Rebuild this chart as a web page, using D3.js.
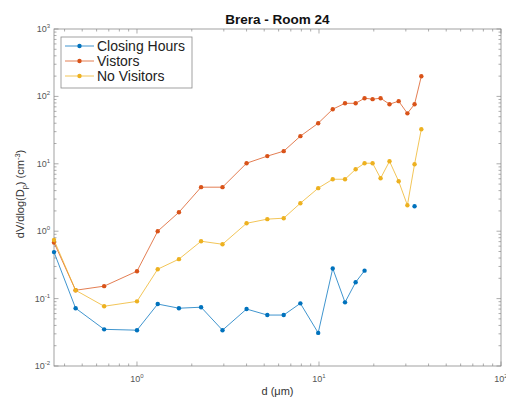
<!DOCTYPE html>
<html><head><meta charset="utf-8">
<script src="https://cdn.jsdelivr.net/npm/d3@7"></script>
<style>body{margin:0;background:#fff}</style>
</head><body>
<svg id="c" width="506" height="399"></svg>
<script>
const diameters = [0.35,0.46,0.66,1.0,1.3,1.7,2.25,2.95,4.0,5.2,6.4,7.9,9.9,11.9,13.9,15.9,17.8,19.7,21.8,24.4,27.4,30.6,33.5,36.5];
const closingHours = [0.49,0.072,0.035,0.034,0.083,0.072,0.0745,0.034,0.07,0.057,0.057,0.085,0.031,0.28,0.088,0.175,0.26,null,null,null,null,null,2.35,null];
const visitors = [0.68,0.133,0.153,0.255,1.0,1.91,4.5,4.5,10.2,13.0,15.4,25.7,40,64.6,79,79,94,91,94,76.6,85,56,76.6,199];
const noVisitors = [0.74,0.133,0.077,0.091,0.273,0.385,0.71,0.64,1.31,1.51,1.56,2.6,4.35,5.9,5.9,8.3,10.2,10.2,6.1,10.9,5.5,2.43,9.86,32.6];
const seriesNames = ["Closing Hours","Vistors","No Visitors"];
const seriesColors = ["#0072BD","#D95319","#EDB120"];
const xTickExps = [0,1,2];
const yTickExps = [-2,-1,0,1,2,3];
const title = "Brera - Room 24";

const svg = d3.select("#c");
const L=54,R=501,T=29,B=366;
const x = d3.scaleLog().domain([0.35,100]).range([L,R]);
const y = d3.scaleLog().domain([1e-2,1e3]).range([B,T]);
const font = "'Liberation Sans', Arial, sans-serif";
const axisCol = "#8a8a8a";

// box
svg.append("rect").attr("x",L).attr("y",T).attr("width",R-L).attr("height",B-T)
  .attr("fill","none").attr("stroke",axisCol).attr("stroke-width",0.8);

// ticks
const g = svg.append("g").attr("stroke",axisCol).attr("stroke-width",0.7);
const xMinor=[], yMinor=[];
for (let e=-1;e<=2;e++) for (let m=1;m<10;m++){const v=m*Math.pow(10,e); if(v>=0.35&&v<=100) xMinor.push({v,major:m===1});}
for (let e=-2;e<=3;e++) for (let m=1;m<10;m++){const v=m*Math.pow(10,e); if(v>=1e-2&&v<=1e3) yMinor.push({v,major:m===1});}
xMinor.forEach(t=>{const l=t.major?4.5:2.5;const px=x(t.v);
  g.append("line").attr("x1",px).attr("x2",px).attr("y1",B).attr("y2",B-l);
  g.append("line").attr("x1",px).attr("x2",px).attr("y1",T).attr("y2",T+l);});
yMinor.forEach(t=>{const l=t.major?4.5:2.5;const py=y(t.v);
  g.append("line").attr("x1",L).attr("x2",L+l).attr("y1",py).attr("y2",py);
  g.append("line").attr("x1",R).attr("x2",R-l).attr("y1",py).attr("y2",py);});

// tick labels
xTickExps.forEach(e=>{
  const t=svg.append("text").attr("x",x(Math.pow(10,e))).attr("y",382).attr("text-anchor","middle")
    .attr("font-family",font).attr("font-size",9).attr("fill","#555");
  t.append("tspan").text("10");
  t.append("tspan").attr("dy",-4).attr("font-size",6).text(e);
});
yTickExps.forEach(e=>{
  const t=svg.append("text").attr("x",50).attr("y",y(Math.pow(10,e))+3).attr("text-anchor","end")
    .attr("font-family",font).attr("font-size",9).attr("fill","#555");
  t.append("tspan").text("10");
  t.append("tspan").attr("dy",-4).attr("font-size",6).text(e);
});

// title
svg.append("text").attr("x",(L+R)/2).attr("y",24).attr("text-anchor","middle")
  .attr("font-family",font).attr("font-weight","bold").attr("font-size",13.5).attr("fill","#111").text(title);

// axis labels
const xl=svg.append("text").attr("x",(L+R)/2).attr("y",395).attr("text-anchor","middle")
  .attr("font-family",font).attr("font-size",11).attr("fill","#333");
xl.text("d  (\u03bcm)");
const yl=svg.append("text").attr("transform","translate(24,194) rotate(-90)").attr("text-anchor","middle")
  .attr("font-family",font).attr("font-size",11).attr("fill","#333");
yl.append("tspan").text("dV/dlog(D");
yl.append("tspan").attr("dy",2.5).attr("font-size",7.5).text("p");
yl.append("tspan").attr("dy",-2.5).text(")  (cm");
yl.append("tspan").attr("dy",-4).attr("font-size",7.5).text("-3");
yl.append("tspan").attr("dy",4).text(")");

// series
const all=[closingHours,visitors,noVisitors];
const line=d3.line().defined(d=>d[1]!=null).x(d=>x(d[0])).y(d=>y(d[1]));
all.forEach((s,i)=>{
  const pts=diameters.map((d,j)=>[d,s[j]]);
  svg.append("path").datum(pts).attr("d",line).attr("fill","none")
    .attr("stroke",seriesColors[i]).attr("stroke-width",1).attr("stroke-opacity",0.75);
  svg.append("g").selectAll("circle").data(pts.filter(p=>p[1]!=null)).join("circle")
    .attr("cx",p=>x(p[0])).attr("cy",p=>y(p[1])).attr("r",2.2).attr("fill",seriesColors[i]);
});

// legend
svg.append("rect").attr("x",61).attr("y",37).attr("width",131).attr("height",51)
  .attr("fill","#fff").attr("stroke",axisCol).attr("stroke-width",0.8);
seriesNames.forEach((n,i)=>{
  const yy=46+i*15;
  svg.append("line").attr("x1",65).attr("x2",94).attr("y1",yy).attr("y2",yy)
    .attr("stroke",seriesColors[i]).attr("stroke-width",1).attr("stroke-opacity",0.75);
  svg.append("circle").attr("cx",79.5).attr("cy",yy).attr("r",2.2).attr("fill",seriesColors[i]);
  svg.append("text").attr("x",97).attr("y",yy+5).attr("font-family",font).attr("font-size",14)
    .attr("fill","#222").text(n);
});
</script>
</body></html>
